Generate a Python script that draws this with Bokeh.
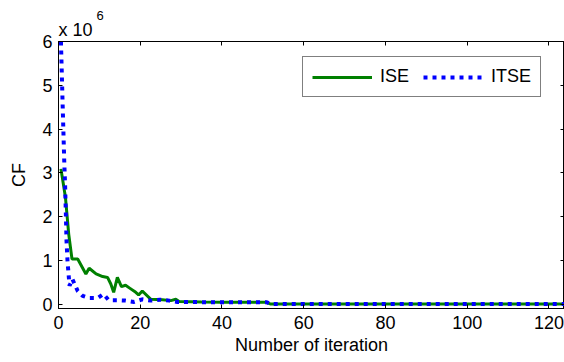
from bokeh.plotting import figure
from bokeh.models import Range1d, FixedTicker, LinearAxis, Legend, LegendItem, Title
from bokeh.embed import file_html
from bokeh.resources import INLINE

# ---- data (CF values in units of 1e6) ----
ise_x = [0.6, 1.7, 2.5, 3.3, 4.7, 6.7, 7.5, 9.2, 10.8, 12.0, 12.8, 13.5, 14.4, 15.4, 16.4,
         17.5, 18.9, 19.6, 20.5, 22.6, 25.4, 27.5, 28.7, 29.5, 35, 40, 45, 50.8, 51.8,
         60, 80, 100, 125]
ise_y = [3.09, 2.44, 1.6, 1.03, 1.03, 0.69, 0.82, 0.69, 0.63, 0.61, 0.46, 0.27, 0.61, 0.40, 0.43,
         0.36, 0.27, 0.21, 0.30, 0.11, 0.10, 0.08, 0.11, 0.06, 0.05, 0.045, 0.045, 0.04, 0.005,
         0.005, 0.005, 0.005, 0.005]

itse_x = [0.6, 1.0, 1.4, 1.63, 1.8, 1.96, 2.2, 2.4, 2.7, 3.4, 4.7, 5.9, 7.5, 9.6, 11.0,
          12.3, 14.4, 16.4, 18.5, 20.5, 22.6, 24.8, 27.1, 29.1, 35, 40, 45, 51, 52,
          60, 80, 100, 125]
itse_y = [6.0, 4.6, 3.28, 2.67, 2.06, 1.45, 0.99, 0.76, 0.42, 0.57, 0.30, 0.19, 0.14, 0.14, 0.23,
          0.09, 0.09, 0.08, 0.05, 0.11, 0.08, 0.10, 0.08, 0.05, 0.045, 0.045, 0.045, 0.04, 0.005,
          0.005, 0.005, 0.005, 0.005]

x_ticks = [0, 20, 40, 60, 80, 100, 120]
y_ticks = [0, 1, 2, 3, 4, 5, 6]
series_labels = ["ISE", "ITSE"]
x_title = "Number of iteration"
y_title = "CF"
scale_base = "x 10"
scale_exp = "6"

FONT = "Liberation Sans"

p = figure(width=564, height=362, output_backend="svg", toolbar_location=None, title=None,
           x_range=Range1d(0, 123.8), y_range=Range1d(-0.1, 6.0),
           min_border_left=58, min_border_top=41, min_border_bottom=54, min_border_right=0)
p.xgrid.visible = False
p.ygrid.visible = False
p.outline_line_color = "black"
p.outline_line_width = 1
p.background_fill_color = "white"
p.border_fill_color = "white"

def style_axis(ax, ticks, show_labels=True, standoff=6):
    ax.ticker = FixedTicker(ticks=ticks)
    ax.major_tick_in = 4
    ax.major_tick_out = 0
    ax.minor_tick_line_color = None
    ax.axis_line_color = "black"
    ax.major_tick_line_color = "black"
    ax.major_label_text_font = FONT
    ax.major_label_text_color = "black"
    ax.axis_label_text_font = FONT
    ax.axis_label_text_font_size = "18px"
    ax.axis_label_text_font_style = "normal"
    ax.axis_label_text_color = "black"
    if show_labels:
        ax.major_label_text_font_size = "18px"
        ax.major_label_standoff = standoff
    else:
        ax.major_label_text_font_size = "1px"
        ax.major_label_text_color = None
        ax.major_label_standoff = 0

style_axis(p.xaxis[0], x_ticks, True, 7)
style_axis(p.yaxis[0], y_ticks, True, 6)
p.xaxis[0].axis_label = x_title
p.xaxis[0].axis_label_standoff = 3
p.yaxis[0].axis_label = y_title
p.yaxis[0].axis_label_standoff = 10

top_ax = LinearAxis()
style_axis(top_ax, x_ticks, False)
p.add_layout(top_ax, "above")
right_ax = LinearAxis()
style_axis(right_ax, y_ticks, False)
p.add_layout(right_ax, "right")

p.add_layout(Title(text=scale_base, align="left", text_font=FONT, text_font_size="18px",
                   text_font_style="normal", text_color="black", standoff=4, offset=0), "above")
p.add_layout(Title(text=scale_exp, align="left", text_font=FONT, text_font_size="13px",
                   text_font_style="normal", text_color="black", standoff=-8, offset=38), "above")

r1 = p.line(ise_x, ise_y, line_color="#008000", line_width=3)
r2 = p.line(itse_x, itse_y, line_color="#0000ff", line_width=4, line_dash="4 5", line_cap="butt")

legend = Legend(items=[LegendItem(label=series_labels[0], renderers=[r1]),
                       LegendItem(label=series_labels[1], renderers=[r2])],
                orientation="horizontal", location=(244, 211))
legend.label_text_font = FONT
legend.label_text_font_size = "18px"
legend.label_text_color = "black"
legend.glyph_width = 60
legend.glyph_height = 18
legend.label_height = 18
legend.label_standoff = 8
legend.spacing = 14
legend.padding = 9
legend.margin = 0
legend.border_line_color = "black"
legend.border_line_width = 1
legend.background_fill_color = "white"
legend.background_fill_alpha = 1
p.add_layout(legend)

open("out.html", "w").write(file_html(p, INLINE))
